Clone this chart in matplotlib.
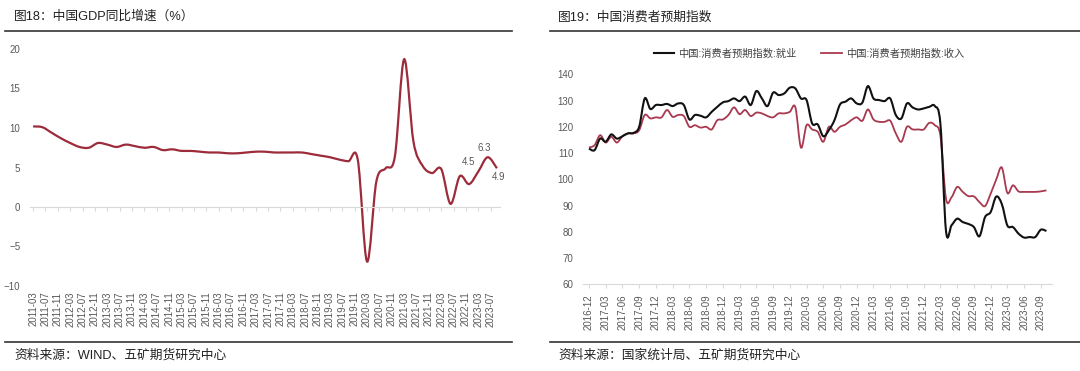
import matplotlib
matplotlib.use('Agg')
import matplotlib.pyplot as plt
import numpy as np
import pandas as pd
from matplotlib.path import Path
from matplotlib.patches import PathPatch
from matplotlib.lines import Line2D

plt.rcParams['font.family'] = ['Liberation Sans', 'Noto Sans CJK SC']

# ---- data: left panel, China GDP yoy by quarter (%) ----
gdp_quarters = pd.period_range('2011Q1', '2023Q3', freq='Q')
gdp_yoy = [10.2, 10.1, 9.4, 8.7,
           8.1, 7.6, 7.5, 8.1,
           7.9, 7.6, 7.9, 7.7,
           7.5, 7.6, 7.2, 7.3,
           7.1, 7.1, 7.0, 6.9,
           6.9, 6.8, 6.8, 6.9,
           7.0, 7.0, 6.9, 6.9,
           6.9, 6.9, 6.7, 6.5,
           6.3, 6.0, 5.8, 6.0,
           -6.9, 3.2, 4.9, 6.4,
           18.7, 8.3, 5.2, 4.3,
           4.8, 0.4, 3.9, 2.9,
           4.5, 6.3, 4.9]
gdp_labels = {'2023Q1': '4.5', '2023Q2': '6.3', '2023Q3': '4.9'}
gdp_tick_labels = pd.date_range('2011-03-01', '2023-07-01', freq='4MS').strftime('%Y-%m').tolist()

# ---- data: right panel, consumer expectation sub-indices (monthly) ----
conf_months = pd.period_range('2016-12', '2023-10', freq='M')
employment = [111.7, 111.1, 115.5, 114.3, 117.1, 115.5, 116.4, 117.5, 117.7, 120.0,
              130.8, 126.8, 128.3, 128.3, 128.7, 127.9, 128.9, 128.3, 122.8, 124.5,
              124.2, 123.6, 125.7, 127.6, 129.3, 129.8, 130.8, 129.8, 131.5, 128.3,
              133.6, 130.8, 127.9, 133.0, 132.1, 132.7, 134.9, 134.6, 130.8, 130.2,
              121.3, 120.9, 116.4, 118.7, 122.5, 128.5, 129.6, 130.8, 128.9, 129.2,
              135.5, 130.8, 130.2, 129.8, 130.8, 124.5, 123.2, 128.9, 127.4, 126.6,
              127.0, 127.6, 127.9, 121.0, 80.3, 82.5, 85.0, 83.7, 83.0, 81.8,
              78.3, 85.6, 87.5, 93.4, 90.6, 82.4, 81.8, 79.3, 77.8, 78.0,
              78.0, 80.8, 80.3]
income = [112.1, 113.0, 116.8, 114.0, 116.2, 114.0, 116.4, 117.5, 117.5, 118.7,
          124.5, 123.2, 123.6, 123.6, 126.4, 123.8, 124.5, 124.1, 120.0, 120.6,
          119.7, 120.0, 119.0, 122.5, 122.8, 124.5, 127.4, 124.8, 126.4, 124.1,
          125.4, 125.1, 124.1, 123.6, 125.1, 125.1, 125.7, 127.4, 112.1, 120.6,
          119.0, 118.1, 114.3, 120.0, 118.1, 120.0, 120.9, 122.5, 123.6, 122.3,
          126.6, 122.8, 121.9, 121.9, 122.3, 117.5, 114.3, 120.0, 119.0, 119.0,
          119.0, 121.5, 120.6, 116.5, 92.6, 93.2, 97.1, 95.2, 93.6, 93.5,
          91.3, 89.8, 94.5, 99.9, 104.5, 94.8, 97.7, 95.4, 95.2, 95.2,
          95.2, 95.4, 95.8]
conf_tick_labels = pd.date_range('2016-12-01', '2023-09-01', freq='3MS').strftime('%Y-%m').tolist()
series_names = ['中国:消费者预期指数:就业', '中国:消费者预期指数:收入']


def month_pos(labels, base):
    # month offset of 'YYYY-MM' strings from base period
    b = pd.Period(base, freq='M')
    return [(pd.Period(s, freq='M') - b).n for s in labels]


def smooth_path(x, y):
    # Excel-style smoothed line as cubic bezier segments
    pts = np.column_stack([x, y]).astype(float)
    ext = np.vstack([pts[0], pts, pts[-1]])
    verts = [pts[0]]
    codes = [Path.MOVETO]
    for i in range(len(pts) - 1):
        p0, p1, p2, p3 = ext[i], ext[i + 1], ext[i + 2], ext[i + 3]
        verts += [p1 + (p2 - p0) / 6, p2 - (p3 - p1) / 6, p2]
        codes += [Path.CURVE4] * 3
    return Path(verts, codes)


W, H = 1080, 371
fig = plt.figure(figsize=(W / 100, H / 100), dpi=100)
tick_col = '#595959'
axis_col = '#d9d9d9'

# ---------------- left panel ----------------
ax1 = fig.add_axes([30 / W, 1 - 286 / H, 470 / W, 237 / H])
gx = [(q.asfreq('M', 'end') - pd.Period('2011-03', freq='M')).n for q in gdp_quarters]
ax1.add_patch(PathPatch(smooth_path(gx, gdp_yoy), fill=False, edgecolor='#9C2B3B', lw=1.6))
ax1.set_xlim(-1, 151)
ax1.set_ylim(-10, 20)
ax1.set_yticks(range(-10, 21, 5))
for s in ['top', 'right', 'left']:
    ax1.spines[s].set_visible(False)
ax1.spines['bottom'].set_position(('data', 0))
ax1.spines['bottom'].set_color(axis_col)
gpos = month_pos(gdp_tick_labels, '2011-03')
ax1.set_xticks(gpos)
ax1.tick_params(axis='x', length=3, color=axis_col, labelbottom=False)
ax1.tick_params(axis='y', length=0, pad=7, labelsize=7, labelcolor=tick_col)
sec = ax1.secondary_xaxis('bottom')
sec.set_xticks(gpos, gdp_tick_labels)
sec.tick_params(length=0, rotation=90, labelsize=7, labelcolor=tick_col, pad=4)
sec.spines['bottom'].set_visible(False)

offsets = {'2023Q1': (-7, 7), '2023Q2': (-2.5, 7), '2023Q3': (1, -6.5)}
for q, txt in gdp_labels.items():
    i = list(gdp_quarters.astype(str)).index(q)
    ax1.annotate(txt, (gx[i], gdp_yoy[i]), xytext=offsets[q], textcoords='offset points',
                 ha='center', va='center', fontsize=7, color=tick_col)

# ---------------- right panel ----------------
ax2 = fig.add_axes([583.4 / W, 1 - 284.3 / H, (1052 - 583.4) / W, 210 / H])
cx = np.arange(len(conf_months))
ax2.add_patch(PathPatch(smooth_path(cx, income), fill=False, edgecolor='#A8394F', lw=1.3))
ax2.add_patch(PathPatch(smooth_path(cx, employment), fill=False, edgecolor='#111111', lw=1.5))
ax2.set_xlim(-1, len(conf_months))
ax2.set_ylim(60, 140)
ax2.set_yticks(range(60, 141, 10))
for s in ['top', 'right', 'left']:
    ax2.spines[s].set_visible(False)
ax2.spines['bottom'].set_color(axis_col)
ax2.set_xticks(month_pos(conf_tick_labels, '2016-12'), conf_tick_labels)
ax2.tick_params(axis='x', length=3, color=axis_col, rotation=90, labelsize=7, labelcolor=tick_col, pad=4)
ax2.tick_params(axis='y', length=0, pad=7, labelsize=7, labelcolor=tick_col)

handles = [Line2D([], [], color='#111111', lw=1.5), Line2D([], [], color='#A8394F', lw=1.3)]
fig.legend(handles, series_names, loc='center', bbox_to_anchor=(809 / W, 1 - 53.3 / H),
           ncol=2, frameon=False, fontsize=7.4, handlelength=2.0, handletextpad=0.4,
           columnspacing=2.4, labelcolor='#404040')

# ---------------- titles, rules, sources ----------------
fig.text(14 / W, 1 - 17 / H, '图18：中国GDP同比增速（%）', fontsize=9.2, va='center', color='#222222')
fig.text(558 / W, 1 - 17 / H, '图19：中国消费者预期指数', fontsize=9.2, va='center', color='#222222')
fig.text(14 / W, 1 - 355 / H, '资料来源：WIND、五矿期货研究中心', fontsize=9.2, va='center', color='#222222')
fig.text(558 / W, 1 - 355 / H, '资料来源：国家统计局、五矿期货研究中心', fontsize=9.2, va='center', color='#222222')
for x0, x1 in [(5, 512), (550, 1080)]:
    for yy in (30.7, 341.7):
        fig.add_artist(Line2D([x0 / W, x1 / W], [1 - yy / H] * 2, transform=fig.transFigure,
                              color='#333333', lw=1.2))

fig.savefig('out.png', dpi=100)
